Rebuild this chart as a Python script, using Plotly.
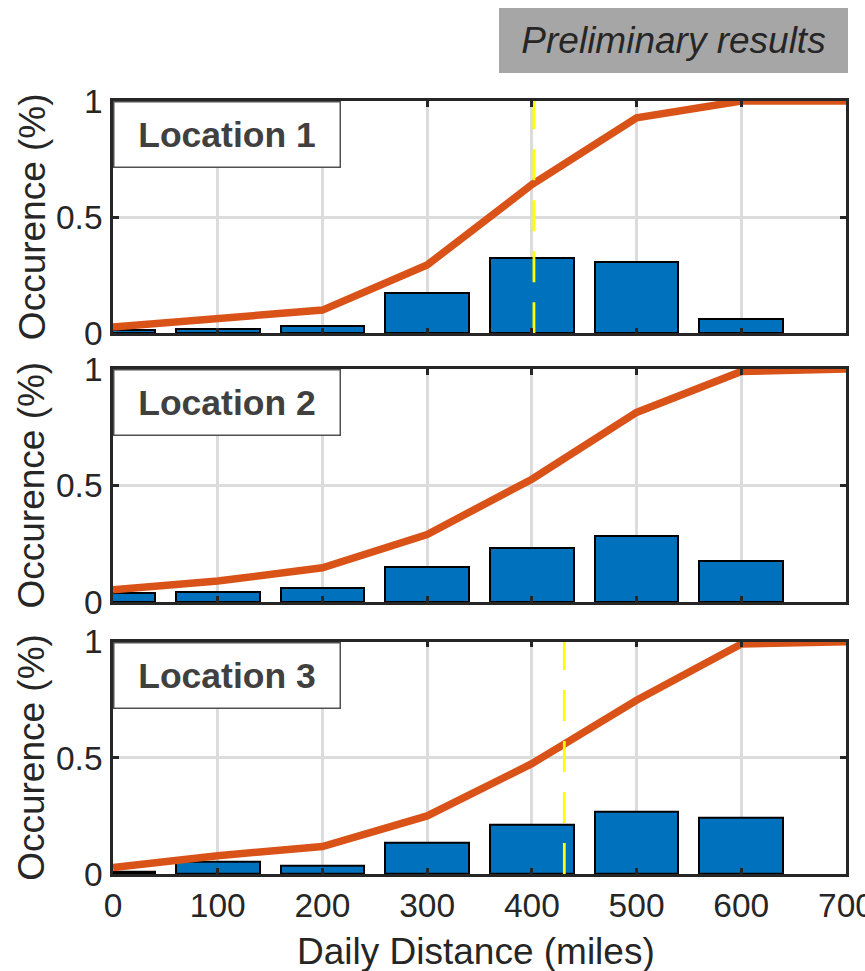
import plotly.graph_objects as go

# ---------------- data ----------------
bins = [0, 100, 200, 300, 400, 500, 600]
cdf_x = [0, 100, 200, 300, 400, 500, 600, 700]

loc1_bars = [0.016, 0.020, 0.030, 0.173, 0.324, 0.309, 0.060]
loc1_cdf = [0.027, 0.062, 0.100, 0.294, 0.640, 0.928, 1.000, 1.000]
loc1_thr = 402

loc2_bars = [0.040, 0.043, 0.059, 0.150, 0.232, 0.284, 0.175]
loc2_cdf = [0.053, 0.090, 0.147, 0.290, 0.527, 0.814, 0.990, 1.000]

loc3_bars = [0.011, 0.053, 0.036, 0.134, 0.213, 0.270, 0.242]
loc3_cdf = [0.028, 0.079, 0.118, 0.250, 0.475, 0.748, 0.990, 1.000]
loc3_thr = 431

location_labels = ["Location 1", "Location 2", "Location 3"]
x_ticks = [0, 100, 200, 300, 400, 500, 600, 700]
y_ticks = [0, 0.5, 1]

# ---------------- style ----------------
FONT = "Liberation Sans, Arial, Helvetica, sans-serif"
BLUE = "#0072BD"
ORANGE = "#D95319"
AXC = "#262626"
GRID = "#dcdcdc"

W, H = 865, 971
L, R, T, B = 113, 19, 101, 97
plot_h = H - T - B

def py(px):
    return (H - B - px) / plot_h

def pxx(px):
    return (px - L) / (W - L - R)

domains = [
    [py(333.3), 1.0],
    [py(602.0), py(369.1)],
    [0.0, py(641.7)],
]

fig = go.Figure()

series = [(loc1_bars, loc1_cdf), (loc2_bars, loc2_cdf), (loc3_bars, loc3_cdf)]
for i, (bars, cdf) in enumerate(series):
    xa = "x" if i == 0 else f"x{i+1}"
    ya = "y" if i == 0 else f"y{i+1}"
    fig.add_trace(go.Bar(
        x=bins, y=bars, width=80, xaxis=xa, yaxis=ya,
        marker=dict(color=BLUE, line=dict(color="black", width=2)),
        showlegend=False, hoverinfo="skip"))
    fig.add_trace(go.Scatter(
        x=cdf_x, y=cdf, mode="lines", xaxis=xa, yaxis=ya,
        line=dict(color=ORANGE, width=7.5), showlegend=False, hoverinfo="skip"))

# threshold lines
for i, thr in [(0, loc1_thr), (2, loc3_thr)]:
    xa = "x" if i == 0 else f"x{i+1}"
    ya = "y" if i == 0 else f"y{i+1}"
    fig.add_trace(go.Scatter(
        x=[thr, thr], y=[0, 1], mode="lines", xaxis=xa, yaxis=ya,
        line=dict(color="#ffff00", width=2.8, dash="31px,20px"),
        showlegend=False, hoverinfo="skip"))

tickfont = dict(family=FONT, size=33.5, color=AXC)
layout = dict(
    width=W, height=H,
    margin=dict(l=L, r=R, t=T, b=B, autoexpand=False),
    paper_bgcolor="white", plot_bgcolor="white",
    bargap=0, showlegend=False,
)
for i in range(3):
    xk = "xaxis" if i == 0 else f"xaxis{i+1}"
    yk = "yaxis" if i == 0 else f"yaxis{i+1}"
    ya = "y" if i == 0 else f"y{i+1}"
    xa = "x" if i == 0 else f"x{i+1}"
    layout[xk] = dict(
        domain=[0, 1], anchor=ya, range=[0, 700],
        tickvals=x_ticks, ticktext=[str(v) for v in x_ticks],
        showticklabels=(i == 2), tickfont=tickfont,
        ticks="inside", ticklen=6, tickwidth=2.5, tickcolor=AXC,
        showline=True, linecolor=AXC, linewidth=2.5, mirror="ticks",
        showgrid=True, gridcolor=GRID, gridwidth=2.5, zeroline=False,
        ticklabelstandoff=0, ticklabeloverflow="allow", automargin=False,
    )
    layout[yk] = dict(
        domain=domains[i], anchor=xa, range=[0, 1],
        tickvals=y_ticks, ticktext=["0", "0.5", "1"], tickfont=tickfont,
        ticks="inside", ticklen=6, tickwidth=2.5, tickcolor=AXC,
        showline=True, linecolor=AXC, linewidth=2.5, mirror="ticks",
        showgrid=True, gridcolor=GRID, gridwidth=2.5, zeroline=False,
        ticklabelstandoff=1, ticklabeloverflow="allow", automargin=False,
    )
fig.update_layout(**layout)

annotations = []
for i, lab in enumerate(location_labels):
    xa = "x" if i == 0 else f"x{i+1}"
    ya = "y" if i == 0 else f"y{i+1}"
    annotations.append(dict(
        text="<b>" + lab + "</b>", xref=f"{xa} domain", yref=f"{ya} domain",
        x=0, y=1, xanchor="left", yanchor="top", showarrow=False,
        font=dict(family=FONT, size=35.5, color="#404040"),
        bgcolor="white", bordercolor="#505050", borderwidth=1.5, borderpad=0,
        width=225, height=64, align="center", valign="middle"))
    annotations.append(dict(
        text="Occurence (%)", xref="paper", yref=f"{ya} domain",
        x=pxx(32), y=0.5, xanchor="center", yanchor="middle", textangle=-90,
        showarrow=False, font=dict(family=FONT, size=37, color=AXC)))

annotations.append(dict(
    text="Daily Distance (miles)", xref="paper", yref="paper",
    x=pxx(475.5), y=py(951), xanchor="center", yanchor="middle",
    showarrow=False, font=dict(family=FONT, size=37, color=AXC)))

annotations.append(dict(
    text="Preliminary results", xref="paper", yref="paper",
    x=pxx(499), y=py(8), xanchor="left", yanchor="top", showarrow=False,
    font=dict(family=FONT, size=37, color=AXC, style="italic"),
    bgcolor="#a6a6a6", borderwidth=0, borderpad=0,
    width=349, height=65, align="center", valign="middle"))

fig.update_layout(annotations=annotations)
fig.write_html(
    "out.html",
    config={"displayModeBar": False},
    post_script="document.body.style.margin='0';document.body.style.padding='0';",
)
